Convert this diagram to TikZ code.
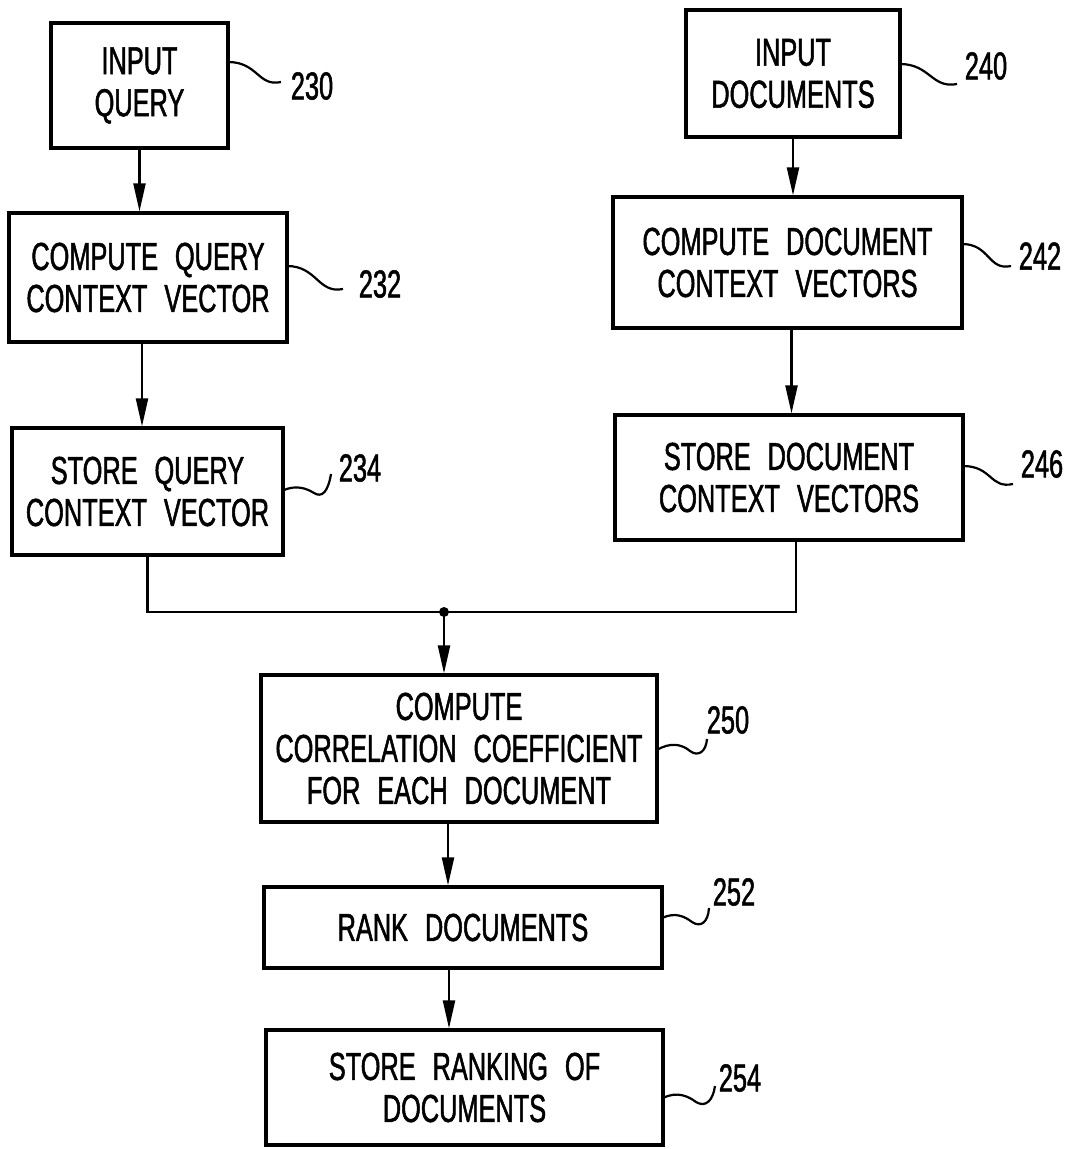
\documentclass[tikz,border=0pt]{standalone}
\usepackage{fontspec}
\setmainfont[FakeStretch=0.65,WordSpace=2.4,FakeBold=1.3]{Liberation Sans}
\usetikzlibrary{arrows.meta,calc}
\begin{document}
\begin{tikzpicture}[x=1pt,y=-1pt,
  box/.style={draw, line width=3.2pt, rectangle, inner sep=0pt, align=center,
              font=\fontsize{39}{42}\selectfont},
  conn/.style={line width=2.2pt},
  arr/.style={conn, -{Triangle[length=28pt,width=12pt]}},
  lead/.style={line width=2.2pt},
  num/.style={font=\fontsize{39}{42}\selectfont, inner sep=0pt}]
\useasboundingbox (0,0) rectangle (1076,1149);

% boxes
\node[box, minimum width=177, minimum height=125] (iq)   at (139.5,85.5)  {INPUT\\QUERY};
\node[box, minimum width=278, minimum height=129] (cqv)  at (148,277.5)   {COMPUTE QUERY\\CONTEXT VECTOR};
\node[box, minimum width=271, minimum height=127] (sqv)  at (147.5,491.5) {STORE QUERY\\CONTEXT VECTOR};
\node[box, minimum width=214, minimum height=127] (idoc) at (793,73.5)    {INPUT\\DOCUMENTS};
\node[box, minimum width=349, minimum height=131] (cdv)  at (787.5,262.5) {COMPUTE DOCUMENT\\CONTEXT VECTORS};
\node[box, minimum width=348, minimum height=125] (sdv)  at (789,477.5)   {STORE DOCUMENT\\CONTEXT VECTORS};
\node[box, minimum width=396, minimum height=147] (ccc)  at (459,748.5)   {COMPUTE\\CORRELATION COEFFICIENT\\FOR EACH DOCUMENT};
\node[box, minimum width=398, minimum height=81]  (rk)   at (463,927.5)   {RANK DOCUMENTS};
\node[box, minimum width=397, minimum height=115] (srk)  at (464.5,1087.5){STORE RANKING OF\\DOCUMENTS};

% reference numerals
\node[num] (n230) at (312,86)   {230};
\node[num] (n232) at (380,284)  {232};
\node[num] (n234) at (360,468)  {234};
\node[num] (n240) at (986,66)   {240};
\node[num] (n242) at (1040,256) {242};
\node[num] (n246) at (1042,464) {246};
\node[num] (n250) at (728,720)  {250};
\node[num] (n252) at (734,892)  {252};
\node[num] (n254) at (740,1078) {254};

% leader lines
\draw[lead] (228,62) .. controls (258,62) and (258,87) .. (281,82);
\draw[lead] (287,266) .. controls (317,266) and (318,294) .. (343,289);
\draw[lead] (900,64) .. controls (930,64) and (932,89) .. (957,84);
\draw[lead] (962,244) .. controls (990,244) and (988,271) .. (1011,266);
\draw[lead] (963,466) .. controls (992,466) and (990,489) .. (1013,484);
\draw[lead] (284,490) .. controls (296,485) and (306,488) .. (314,493) .. controls (322,498) and (328,492) .. (331,474);
\draw[lead] (657,750) .. controls (670,742) and (682,744) .. (690,751) .. controls (698,757) and (706,752) .. (707,739);
\draw[lead] (662,918) .. controls (675,912) and (684,916) .. (692,922) .. controls (701,928) and (708,922) .. (709,908);
\draw[lead] (663,1098) .. controls (677,1091) and (688,1096) .. (696,1102) .. controls (706,1108) and (713,1100) .. (715,1086);

% connectors
\draw[arr] (iq.south) -- (iq.south |- cqv.north);
\draw[arr] ([xshift=-6]cqv.south) -- ([xshift=-6]cqv.south |- sqv.north);
\draw[arr] (idoc.south) -- (idoc.south |- cdv.north);
\draw[arr] ([xshift=4]cdv.south) -- ([xshift=4]cdv.south |- sdv.north);

\coordinate (j) at (444,612);
\draw[conn] (sqv.south) |- (j);
\draw[conn] ([xshift=7]sdv.south) |- (j);
\fill (j) circle (5);
\draw[arr] (j) -- (j |- ccc.north);
\draw[arr] ([xshift=-11]ccc.south) -- ([xshift=-11]ccc.south |- rk.north);
\draw[arr] ([xshift=-14]rk.south) -- ([xshift=-14]rk.south |- srk.north);
\end{tikzpicture}
\end{document}
